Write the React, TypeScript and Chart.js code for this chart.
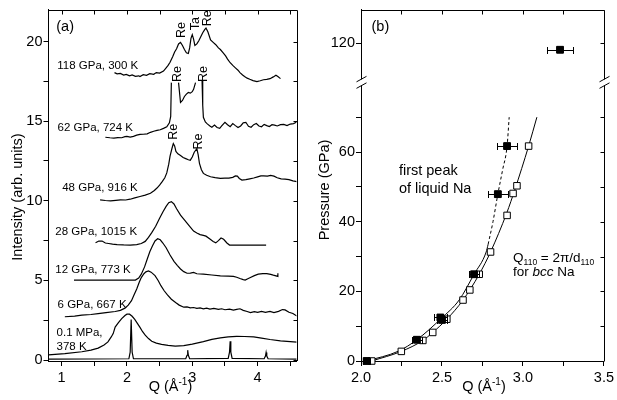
import React, { useEffect, useRef } from 'react';
import { Chart, registerables } from 'chart.js';
Chart.register(...registerables);

const FONT = '"Liberation Sans", Arial, Helvetica, sans-serif';
Chart.defaults.font.family = FONT;
Chart.defaults.color = '#000';

type Pt = [number, number | null];

// ---------------- Panel (a): diffraction patterns ----------------
const qTicksA = [1, 1.5, 2, 2.5, 3, 3.5, 4, 4.5];
const intensityTicks = [0, 2.5, 5, 7.5, 10, 12.5, 15, 17.5, 20];

const bragg01MPa: Pt[] = [
  [0.8, 0.06], [2.03, 0.08], [2.05, 0.5], [2.065, 2.55], [2.08, 0.5], [2.1, 0.08],
  [2.9, 0.08], [2.92, 0.3], [2.93, 0.62], [2.94, 0.3], [2.96, 0.08],
  [3.55, 0.1], [3.57, 0.5], [3.58, 1.18], [3.59, 0.5], [3.61, 0.1],
  [4.1, 0.08], [4.12, 0.25], [4.13, 0.48], [4.14, 0.25], [4.16, 0.08], [4.6, 0.06],
];
const liquid01MPa: Pt[] = [
  [0.8, 0.33], [1.05, 0.4], [1.31, 0.52], [1.45, 0.62], [1.56, 0.75], [1.65, 0.95], [1.71, 1.14],
  [1.76, 1.45], [1.79, 1.66], [1.82, 2.07], [1.87, 2.35], [1.92, 2.6], [1.97, 2.8], [2.0, 2.88],
  [2.04, 2.88], [2.08, 2.75], [2.12, 2.55], [2.16, 2.3], [2.2, 2.05], [2.24, 1.78], [2.28, 1.56],
  [2.33, 1.35], [2.38, 1.18], [2.45, 1.06], [2.53, 0.98], [2.63, 0.92], [2.74, 0.88], [2.87, 0.9],
  [3.0, 1.0], [3.17, 1.16], [3.3, 1.3], [3.43, 1.39], [3.55, 1.46], [3.68, 1.49], [3.8, 1.48],
  [3.94, 1.45], [4.06, 1.38], [4.19, 1.29], [4.35, 1.2], [4.6, 1.12],
];
const gpa6: Pt[] = [
  [1.05, 2.72], [1.2, 2.76], [1.31, 2.82], [1.45, 2.86], [1.56, 2.92], [1.68, 2.98], [1.82, 3.05],
  [1.9, 3.12], [1.97, 3.26], [2.02, 3.45], [2.07, 3.73], [2.11, 4.1], [2.15, 4.46], [2.19, 4.9],
  [2.22, 5.18], [2.26, 5.42], [2.29, 5.54], [2.33, 5.6], [2.37, 5.52], [2.43, 5.3], [2.48, 4.98],
  [2.52, 4.67], [2.57, 4.35], [2.62, 4.09], [2.68, 3.82], [2.75, 3.6], [2.8, 3.45], [2.87, 3.32],
  [2.92, 3.34], [2.97, 3.28], [3.02, 3.3], [3.07, 3.24], [3.12, 3.27], [3.17, 3.22], [3.22, 3.26],
  [3.27, 3.2], [3.33, 3.24], [3.4, 3.18], [3.45, 3.22], [3.5, 3.16], [3.57, 3.2], [3.63, 3.13],
  [3.68, 3.18], [3.73, 3.22], [3.78, 3.12], [3.84, 3.05], [3.89, 2.98], [3.95, 3.04], [4.0, 3.0],
  [4.06, 3.06], [4.12, 3.0], [4.19, 3.05], [4.25, 2.98], [4.32, 3.06], [4.38, 3.17], [4.42, 3.15],
  [4.48, 3.0], [4.54, 2.92], [4.6, 2.76],
];
const gpa12: Pt[] = [
  [1.19, 5.02], [2.13, 5.02], [2.18, 5.15], [2.22, 5.39], [2.27, 5.85], [2.31, 6.33], [2.35, 6.8],
  [2.39, 7.16], [2.43, 7.48], [2.47, 7.62], [2.51, 7.55], [2.55, 7.35], [2.6, 7.05], [2.66, 6.6],
  [2.72, 6.2], [2.77, 5.95], [2.82, 5.72], [2.87, 5.55], [2.92, 5.45], [2.97, 5.46], [3.02, 5.5],
  [3.07, 5.42], [3.17, 5.39], [3.3, 5.34], [3.43, 5.29], [3.55, 5.27], [3.63, 5.25], [3.68, 5.2],
  [3.73, 5.12], [3.78, 5.05], [3.81, 5.02], [3.85, 5.1], [3.89, 5.18], [3.95, 5.3], [4.01, 5.39],
  [4.08, 5.43], [4.14, 5.43], [4.2, 5.38], [4.24, 5.33], [4.31, 5.25], [4.31, 5.45],
];
const gpa28: Pt[] = [
  [1.52, 7.36], [1.57, 7.47], [1.62, 7.47], [1.67, 7.35], [1.72, 7.32], [1.78, 7.28], [1.85, 7.25],
  [1.95, 7.23], [2.05, 7.22], [2.15, 7.25], [2.22, 7.32], [2.28, 7.45], [2.33, 7.7], [2.38, 8.0],
  [2.44, 8.4], [2.5, 8.9], [2.55, 9.3], [2.6, 9.65], [2.64, 9.88], [2.68, 9.95], [2.72, 9.8],
  [2.76, 9.5], [2.82, 9.1], [2.87, 8.85], [2.92, 8.6], [2.97, 8.35], [3.02, 8.1], [3.07, 7.98],
  [3.12, 7.88], [3.17, 7.83], [3.21, 7.78], [3.27, 7.6], [3.32, 7.45], [3.36, 7.36], [3.4, 7.5],
  [3.44, 7.66], [3.48, 7.58], [3.53, 7.35], [3.57, 7.22], [4.13, 7.22],
];
const gpa48: Pt[] = [
  [1.59, 10.06], [1.67, 10.02], [1.75, 10.0], [1.83, 10.03], [1.9, 10.06], [1.98, 10.05], [2.05, 10.1],
  [2.12, 10.18], [2.2, 10.27], [2.28, 10.36], [2.36, 10.47], [2.42, 10.65], [2.46, 10.8], [2.5, 10.98],
  [2.54, 11.2], [2.58, 11.45], [2.61, 11.75], [2.64, 12.3], [2.66, 12.8], [2.69, 13.3], [2.71, 13.6],
  [2.73, 13.45], [2.75, 13.1], [2.78, 12.95], [2.82, 12.85], [2.86, 12.72], [2.9, 12.65], [2.94, 12.58],
  [2.97, 12.55], [3.0, 12.75], [3.03, 13.05], [3.07, 13.27], [3.09, 12.9], [3.11, 12.35], [3.14, 11.95],
  [3.17, 11.72], [3.22, 11.6], [3.28, 11.51], [3.35, 11.45], [3.43, 11.41], [3.5, 11.42], [3.56, 11.42],
  [3.62, 11.47], [3.66, 11.56], [3.69, 11.55], [3.72, 11.4], [3.76, 11.3], [3.82, 11.33], [3.88, 11.38],
  [3.94, 11.43], [4.0, 11.5], [4.05, 11.56], [4.09, 11.56], [4.15, 11.55], [4.2, 11.6], [4.25, 11.55],
  [4.3, 11.45], [4.36, 11.38], [4.42, 11.36], [4.48, 11.33], [4.54, 11.25], [4.6, 11.2],
];
const gpa62: Pt[] = [
  [1.67, 13.99], [1.74, 13.96], [1.8, 13.94], [1.86, 13.97], [1.92, 13.96], [1.97, 14.03], [2.0, 14.04],
  [2.05, 14.0], [2.1, 14.05], [2.15, 14.12], [2.2, 14.17], [2.25, 14.18], [2.31, 14.2], [2.36, 14.3],
  [2.41, 14.37], [2.46, 14.42], [2.51, 14.46], [2.56, 14.55], [2.61, 14.65], [2.65, 14.9], [2.67, 15.3],
  [2.68, 17.42], [2.73, null],
  [2.79, 17.42], [2.82, 16.18], [2.85, 16.3], [2.88, 16.55], [2.91, 16.7], [2.94, 16.8], [2.97, 16.76],
  [3.0, 16.85], [3.02, 17.0], [3.05, 17.42], [3.1, null],
  [3.15, 17.53], [3.16, 16.0], [3.17, 15.24], [3.2, 14.95], [3.23, 14.83], [3.27, 14.7], [3.3, 14.62],
  [3.34, 14.75], [3.38, 14.6], [3.42, 14.55], [3.45, 14.7], [3.5, 14.93], [3.54, 14.78], [3.58, 14.65],
  [3.62, 14.85], [3.66, 14.72], [3.7, 14.6], [3.74, 14.7], [3.78, 14.9], [3.82, 14.93], [3.86, 14.68],
  [3.9, 14.62], [3.94, 14.78], [3.98, 14.85], [4.02, 14.7], [4.06, 14.65], [4.1, 14.8], [4.14, 14.72],
  [4.18, 14.66], [4.22, 14.78], [4.26, 14.75], [4.3, 14.7], [4.35, 14.78], [4.4, 14.8], [4.45, 14.72],
  [4.5, 14.82], [4.55, 14.85], [4.6, 14.95],
];
const gpa118: Pt[] = [
  [1.81, 18.05], [1.85, 17.97], [1.9, 18.0], [1.95, 17.9], [1.99, 17.94], [2.04, 17.85], [2.08, 17.9],
  [2.13, 17.82], [2.18, 17.85], [2.2, 17.8], [2.25, 17.92], [2.3, 17.88], [2.35, 17.98], [2.41, 17.94],
  [2.45, 18.05], [2.5, 18.02], [2.56, 18.15], [2.6, 18.35], [2.63, 18.5], [2.66, 18.7], [2.7, 19.05],
  [2.73, 19.35], [2.76, 19.55], [2.79, 19.85], [2.82, 19.95], [2.85, 19.75], [2.88, 19.5], [2.91, 19.3],
  [2.94, 19.25], [2.96, 19.6], [2.98, 20.2], [3.0, 20.43], [3.02, 20.15], [3.04, 19.75], [3.07, 19.85],
  [3.1, 20.05], [3.13, 20.3], [3.16, 20.55], [3.19, 20.75], [3.21, 20.85], [3.24, 20.6], [3.28, 20.1],
  [3.32, 19.95], [3.36, 19.8], [3.4, 19.6], [3.43, 19.5], [3.47, 19.3], [3.51, 19.1], [3.54, 18.9],
  [3.58, 18.67], [3.62, 18.5], [3.66, 18.35], [3.7, 18.2], [3.73, 18.05], [3.77, 17.9], [3.8, 17.8],
  [3.84, 17.7], [3.88, 17.63], [3.93, 17.55], [3.99, 17.49], [4.04, 17.54], [4.09, 17.6], [4.14, 17.62],
  [4.19, 17.67], [4.24, 17.78], [4.28, 17.88], [4.31, 17.8], [4.35, 17.67],
];

const sampleLabels = [
  { text: '118 GPa, 300 K', q: 0.934, i: 18.54 },
  { text: '62 GPa, 724 K', q: 0.939, i: 14.62 },
  { text: '48 GPa, 916 K', q: 1.01, i: 10.85 },
  { text: '28 GPa, 1015 K', q: 0.904, i: 8.13 },
  { text: '12 GPa, 773 K', q: 0.904, i: 5.71 },
  { text: '6 GPa, 667 K', q: 0.939, i: 3.53 },
  { text: '0.1 MPa,', q: 0.923, i: 1.76 },
  { text: '378 K', q: 0.923, i: 0.87 },
];
const peakLabels = [
  { text: 'Re', q: 2.817, i: 20.73 },
  { text: 'Ta', q: 3.03, i: 21.12 },
  { text: 'Re', q: 3.215, i: 21.46 },
  { text: 'Re', q: 2.758, i: 17.96 },
  { text: 'Re', q: 3.149, i: 17.96 },
  { text: 'Re', q: 2.705, i: 14.34 },
  { text: 'Re', q: 3.081, i: 13.72 },
];

// ---------------- Panel (b): pressure vs Q ----------------
const qTicksB = [2.0, 2.25, 2.5, 2.75, 3.0, 3.25, 3.5];
const pressureTicksLow = [0, 10, 20, 30, 40, 50, 60, 70];
const pressureTicksHigh = [120];

const bccQ = [2.066, 2.249, 2.382, 2.443, 2.53, 2.63, 2.672, 2.73, 2.8, 2.902, 2.939, 2.963, 3.035];
const bccP = [0, 2.76, 5.9, 8.2, 12.0, 17.5, 20.4, 24.9, 31.3, 41.8, 48.1, 50.3, 61.7];

const liqQ = [2.035, 2.345, 2.49, 2.5, 2.698, 2.845, 2.902];
const liqP = [0, 6.1, 12.5, 11.8, 24.9, 47.9, 61.7];
const liqQErr = [0.02, 0.03, 0.04, 0.03, 0.03, 0.063, 0.06];

const liqHighQ = [3.229];
const liqHighP = [118.1];
const liqHighQErr = [0.082];

const bccFit: Pt[] = [
  [2.066, 0], [2.249, 2.76], [2.382, 5.9], [2.443, 8.2], [2.53, 12], [2.63, 17.5], [2.73, 24.9],
  [2.8, 31.3], [2.9, 42.5], [2.95, 49.2], [3.035, 61.7], [3.086, 70],
];
const liquidFitSolid: Pt[] = [
  [2.035, 0], [2.23, 2.8], [2.345, 6.1], [2.495, 12.2], [2.606, 17.5], [2.698, 24.9], [2.773, 31.3], [2.785, 33.5],
];
const liquidFitDashed: Pt[] = [
  [2.785, 33.5], [2.815, 40], [2.845, 47.9], [2.875, 55], [2.902, 61.7], [2.915, 70],
];

// ---------------- helpers ----------------
const toXY = (pts: Pt[]) => pts.map(([x, y]) => ({ x, y }));
const zipXY = (xs: number[], ys: number[]) => xs.map((x, k) => ({ x, y: ys[k] }));

type Seg = { t: string; size: number; dy?: number; italic?: boolean };
function drawRich(ctx: CanvasRenderingContext2D, segs: Seg[], x: number, y: number, align: 'left' | 'center' = 'left') {
  ctx.save();
  ctx.fillStyle = '#000';
  ctx.textBaseline = 'alphabetic';
  ctx.textAlign = 'left';
  const fontOf = (s: Seg) => `${s.italic ? 'italic ' : ''}${s.size}px ${FONT}`;
  const widths = segs.map((s) => {
    ctx.font = fontOf(s);
    return ctx.measureText(s.t).width;
  });
  const total = widths.reduce((a, b) => a + b, 0);
  let cx = align === 'center' ? x - total / 2 : x;
  segs.forEach((s, k) => {
    ctx.font = fontOf(s);
    ctx.fillText(s.t, cx, y + (s.dy || 0));
    cx += widths[k];
  });
  ctx.restore();
}
function drawRotated(ctx: CanvasRenderingContext2D, segs: Seg[], cx: number, cy: number) {
  ctx.save();
  ctx.translate(cx, cy);
  ctx.rotate(-Math.PI / 2);
  drawRich(ctx, segs, 0, 0, 'center');
  ctx.restore();
}

const TICK_SIZE = 14.5;
const tickFont = { family: FONT, size: TICK_SIZE };
const gridOpts = { display: true, drawOnChartArea: false, drawTicks: true, tickLength: 5, color: '#000', lineWidth: 1 };
const borderOpts = { display: true, color: '#000', width: 1 };

function frameAndMirrorTicks(ctx: CanvasRenderingContext2D, ca: any, xScale: any, xTicks: number[], yPairs: { scale: any; ticks: number[] }[]) {
  ctx.save();
  ctx.strokeStyle = '#000';
  ctx.lineWidth = 1;
  ctx.beginPath();
  const top = Math.round(ca.top) + 0.5;
  const right = Math.round(ca.right) + 0.5;
  ctx.moveTo(ca.left, top);
  ctx.lineTo(right, top);
  ctx.moveTo(right, top);
  ctx.lineTo(right, ca.bottom);
  xTicks.forEach((v) => {
    const x = Math.round(xScale.getPixelForValue(v)) + 0.5;
    ctx.moveTo(x, top);
    ctx.lineTo(x, top + 4);
  });
  yPairs.forEach(({ scale, ticks }) => {
    ticks.forEach((v) => {
      const y = Math.round(scale.getPixelForValue(v)) + 0.5;
      ctx.moveTo(right, y);
      ctx.lineTo(right - 4, y);
    });
  });
  ctx.stroke();
  ctx.restore();
}

const lineDs = (pts: Pt[], extra: any = {}) => ({
  data: toXY(pts),
  showLine: true,
  pointRadius: 0,
  borderColor: '#000',
  borderWidth: 1.2,
  spanGaps: false,
  ...extra,
});

export default function App() {
  const refA = useRef<HTMLCanvasElement>(null);
  const refB = useRef<HTMLCanvasElement>(null);

  useEffect(() => {
    // -------- Panel (a) --------
    const pluginA = {
      id: 'panelA',
      afterDraw(chart: any) {
        const { ctx, chartArea: ca, scales } = chart;
        const xs = scales.x;
        const ys = scales.y;
        frameAndMirrorTicks(ctx, ca, xs, qTicksA, [{ scale: ys, ticks: intensityTicks }]);
        const labSize = 11.5;
        sampleLabels.forEach((l) => {
          drawRich(ctx, [{ t: l.text, size: labSize }], xs.getPixelForValue(l.q), ys.getPixelForValue(l.i) + labSize * 0.36);
        });
        const reSize = 12.5;
        peakLabels.forEach((l) => {
          drawRotated(ctx, [{ t: l.text, size: reSize }], xs.getPixelForValue(l.q) + reSize * 0.36, ys.getPixelForValue(l.i));
        });
        drawRich(ctx, [{ t: '(a)', size: 14.5 }], xs.getPixelForValue(0.919), ys.getPixelForValue(21.0) + 5.2);
        drawRich(ctx, [{ t: 'Q (Å', size: 14.5 }, { t: '-1', size: 10, dy: -6 }, { t: ')', size: 14.5 }], (ca.left + ca.right) / 2 - 2, 391, 'center');
        drawRotated(ctx, [{ t: 'Intensity (arb. units)', size: 14.5 }], 21.5, 197);
      },
    };

    const chartA = new Chart(refA.current as HTMLCanvasElement, {
      type: 'scatter',
      data: {
        datasets: [
          lineDs(bragg01MPa),
          lineDs(liquid01MPa),
          lineDs(gpa6),
          lineDs(gpa12),
          lineDs(gpa28),
          lineDs(gpa48),
          lineDs(gpa62),
          lineDs(gpa118),
        ],
      },
      options: {
        responsive: false,
        animation: false,
        events: [],
        layout: { padding: { left: 0, top: 7, right: 320.5, bottom: 0 } },
        plugins: { legend: { display: false }, tooltip: { enabled: false } },
        scales: {
          x: {
            type: 'linear',
            min: 0.8,
            max: 4.595,
            afterBuildTicks: (s: any) => { s.ticks = qTicksA.map((v) => ({ value: v })); },
            afterFit: (s: any) => { s.height = 39; },
            ticks: {
              font: tickFont, color: '#000', padding: 3, maxRotation: 0, autoSkip: false,
              callback: (v: any) => (Number.isInteger(v) ? String(v) : ''),
            },
            grid: gridOpts,
            border: borderOpts,
          },
          y: {
            type: 'linear',
            min: -0.06,
            max: 22.0,
            afterBuildTicks: (s: any) => { s.ticks = intensityTicks.map((v) => ({ value: v })); },
            afterFit: (s: any) => { s.width = 48.5; },
            ticks: {
              font: tickFont, color: '#000', padding: 1, autoSkip: false,
              callback: (v: any) => (v % 5 === 0 ? String(v) : ''),
            },
            grid: gridOpts,
            border: borderOpts,
          },
        },
      } as any,
      plugins: [pluginA],
    });

    // -------- Panel (b) --------
    const errorSets = [
      { q: liqQ, p: liqP, e: liqQErr, axis: 'yLow' },
      { q: liqHighQ, p: liqHighP, e: liqHighQErr, axis: 'yHigh' },
    ];
    const pluginB = {
      id: 'panelB',
      afterDatasetsDraw(chart: any) {
        const { ctx, scales } = chart;
        ctx.save();
        ctx.strokeStyle = '#000';
        ctx.lineWidth = 1;
        ctx.beginPath();
        errorSets.forEach((set) => {
          const ys = scales[set.axis];
          set.q.forEach((q, k) => {
            const y = Math.round(ys.getPixelForValue(set.p[k])) + 0.5;
            const x1 = Math.round(scales.x.getPixelForValue(q - set.e[k])) + 0.5;
            const x2 = Math.round(scales.x.getPixelForValue(q + set.e[k])) + 0.5;
            ctx.moveTo(x1, y); ctx.lineTo(x2, y);
            ctx.moveTo(x1, y - 3.5); ctx.lineTo(x1, y + 3.5);
            ctx.moveTo(x2, y - 3.5); ctx.lineTo(x2, y + 3.5);
          });
        });
        ctx.stroke();
        ctx.restore();
        // redraw the filled squares over the error bars
        ctx.save();
        ctx.fillStyle = '#000';
        errorSets.forEach((set) => {
          const ys = scales[set.axis];
          set.q.forEach((q, k) => {
            const x = scales.x.getPixelForValue(q);
            const y = ys.getPixelForValue(set.p[k]);
            ctx.fillRect(x - 3.4, y - 3.4, 6.8, 6.8);
          });
        });
        ctx.restore();
      },
      afterDraw(chart: any) {
        const { ctx, chartArea: ca, scales } = chart;
        const xs = scales.x;
        const yl = scales.yLow;
        const yh = scales.yHigh;
        frameAndMirrorTicks(ctx, ca, xs, qTicksB, [
          { scale: yl, ticks: pressureTicksLow },
          { scale: yh, ticks: pressureTicksHigh },
        ]);
        // axis break marks
        const by = yl.top;
        [Math.round(ca.left) + 0.5, Math.round(ca.right) + 0.5].forEach((ax) => {
          ctx.save();
          ctx.fillStyle = '#fff';
          ctx.fillRect(ax - 2, by - 3, 4, 6);
          ctx.strokeStyle = '#000';
          ctx.lineWidth = 1;
          ctx.beginPath();
          ctx.moveTo(ax - 5, by - 0.5); ctx.lineTo(ax + 5, by - 6);
          ctx.moveTo(ax - 5, by + 6); ctx.lineTo(ax + 5, by + 0.5);
          ctx.stroke();
          ctx.restore();
        });
        const s = 14.5;
        drawRich(ctx, [{ t: '(b)', size: s }], xs.getPixelForValue(2.065), yh.getPixelForValue(124.96) + s * 0.36);
        drawRich(ctx, [{ t: 'first peak', size: s }], xs.getPixelForValue(2.234), yl.getPixelForValue(55.0) + s * 0.36);
        drawRich(ctx, [{ t: 'of liquid Na', size: s }], xs.getPixelForValue(2.234), yl.getPixelForValue(49.8) + s * 0.36);
        drawRich(ctx, [
          { t: 'Q', size: 13.5 }, { t: '110', size: 8.5, dy: 3 }, { t: ' = 2π/d', size: 13.5 }, { t: '110', size: 8.5, dy: 3 },
        ], xs.getPixelForValue(2.939), yl.getPixelForValue(29.8) + 13.5 * 0.36);
        drawRich(ctx, [
          { t: 'for ', size: 13.5 }, { t: 'bcc', size: 13.5, italic: true }, { t: ' Na', size: 13.5 },
        ], xs.getPixelForValue(2.939), yl.getPixelForValue(25.8) + 13.5 * 0.36);
        drawRich(ctx, [{ t: 'Q (Å', size: 14.5 }, { t: '-1', size: 10, dy: -6 }, { t: ')', size: 14.5 }], 484, 391, 'center');
        drawRotated(ctx, [{ t: 'Pressure (GPa)', size: 14.5 }], 329, 190);
      },
    };

    const yCommon = {
      type: 'linear',
      position: 'left',
      stack: 'pressure',
      afterFit: (s: any) => { s.width = 53; },
      grid: gridOpts,
      border: borderOpts,
    };

    const chartB = new Chart(refB.current as HTMLCanvasElement, {
      type: 'scatter',
      data: {
        datasets: [
          {
            data: zipXY(liqQ, liqP), yAxisID: 'yLow', pointStyle: 'rect', pointRadius: 4.8,
            backgroundColor: '#000', borderColor: '#000', borderWidth: 1, clip: false,
          },
          {
            data: zipXY(liqHighQ, liqHighP), yAxisID: 'yHigh', pointStyle: 'rect', pointRadius: 4.8,
            backgroundColor: '#000', borderColor: '#000', borderWidth: 1, clip: false,
          },
          {
            data: zipXY(bccQ, bccP), yAxisID: 'yLow', pointStyle: 'rect', pointRadius: 4.6,
            backgroundColor: '#fff', borderColor: '#000', borderWidth: 1, clip: false,
          },
          lineDs(bccFit, { yAxisID: 'yLow', borderWidth: 1, cubicInterpolationMode: 'monotone', clip: false }),
          lineDs(liquidFitSolid, { yAxisID: 'yLow', borderWidth: 1, cubicInterpolationMode: 'monotone', clip: false }),
          lineDs(liquidFitDashed, { yAxisID: 'yLow', borderWidth: 1, borderDash: [3, 2.5], cubicInterpolationMode: 'monotone', clip: false }),
        ],
      },
      options: {
        responsive: false,
        animation: false,
        events: [],
        layout: { padding: { left: 308, top: 7, right: 10, bottom: 0 } },
        plugins: { legend: { display: false }, tooltip: { enabled: false } },
        scales: {
          x: {
            type: 'linear',
            min: 2.0,
            max: 3.5,
            afterBuildTicks: (s: any) => { s.ticks = qTicksB.map((v) => ({ value: v })); },
            afterFit: (s: any) => { s.height = 39; },
            ticks: {
              font: tickFont, color: '#000', padding: 3, maxRotation: 0, autoSkip: false,
              callback: (v: any) => (Math.abs(v * 2 - Math.round(v * 2)) < 1e-6 ? Number(v).toFixed(1) : ''),
            },
            grid: gridOpts,
            border: borderOpts,
          },
          yLow: {
            ...yCommon,
            weight: 0,
            stackWeight: 280.8,
            min: 0,
            max: 80,
            afterBuildTicks: (s: any) => { s.ticks = pressureTicksLow.map((v) => ({ value: v })); },
            ticks: {
              font: tickFont, color: '#000', padding: 1, autoSkip: false,
              callback: (v: any) => (v % 20 === 0 ? String(v) : ''),
            },
          },
          yHigh: {
            ...yCommon,
            weight: 1,
            stackWeight: 73.2,
            min: 108.75,
            max: 129.6,
            afterBuildTicks: (s: any) => { s.ticks = pressureTicksHigh.map((v) => ({ value: v })); },
            ticks: { font: tickFont, color: '#000', padding: 1, autoSkip: false, callback: (v: any) => String(v) },
          },
        },
      } as any,
      plugins: [pluginB],
    });

    return () => {
      chartA.destroy();
      chartB.destroy();
    };
  }, []);

  return (
    <div style={{ position: 'absolute', left: 0, top: 0, width: 617, height: 400, background: '#fff' }}>
      <canvas ref={refA} width={617} height={400} style={{ position: 'absolute', left: 0, top: 0 }} />
      <canvas ref={refB} width={617} height={400} style={{ position: 'absolute', left: 0, top: 0 }} />
    </div>
  );
}
